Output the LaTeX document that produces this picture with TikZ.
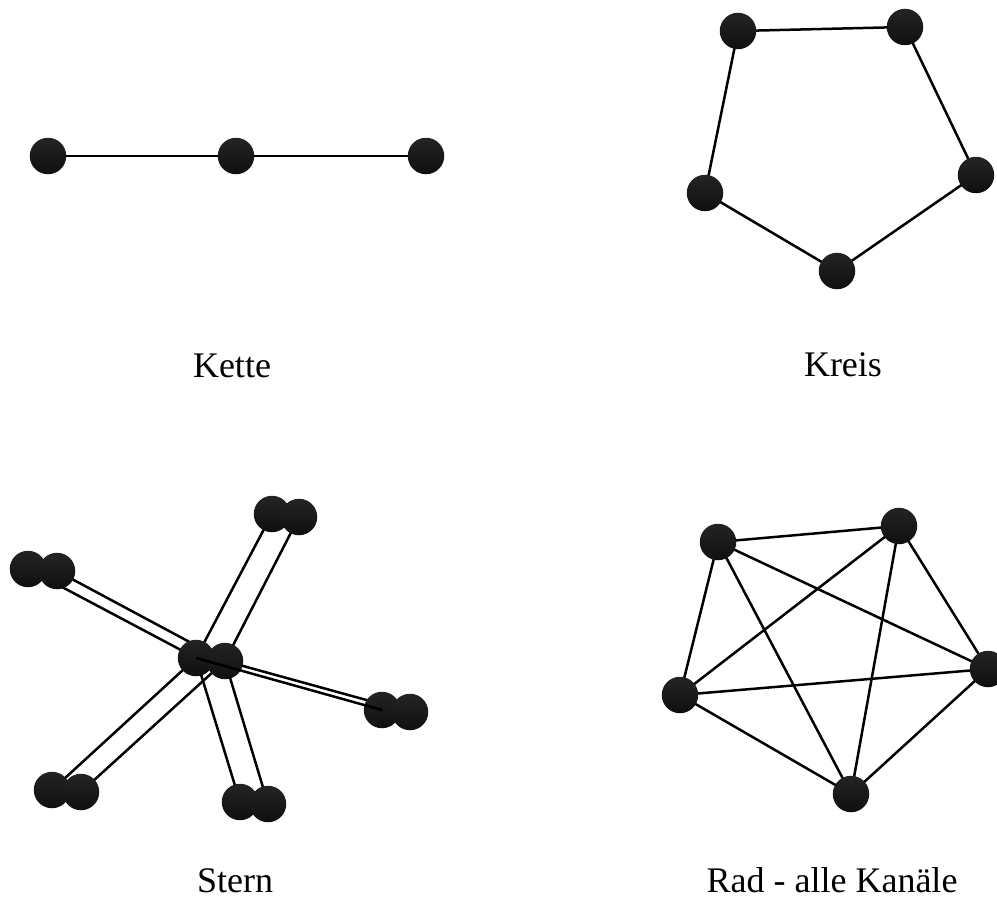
\documentclass[tikz,border=0pt]{standalone}
\usepackage{fontspec}
\setmainfont{Liberation Serif}

\begin{document}
\begin{tikzpicture}[x=1pt,y=-1pt]
		\tikzstyle{every node}+=[inner sep=0pt]
		\tikzstyle{ball}=[circle, minimum size=36.5pt, shading=axis, top color=black!86, bottom color=black!94]
		\tikzstyle{edge}=[black, line width=2.5pt]
		\tikzstyle{caption}=[anchor=base, font=\fontsize{36}{40}\selectfont]
		\useasboundingbox (0,0) rectangle (997,899);
		% Kette
		\node [ball] (c1) at (48,156) {};
		\node [ball] (c2) at (236,156) {};
		\node [ball] (c3) at (426,156) {};
		\draw [edge] (c1) -- (c2);
		\draw [edge] (c2) -- (c3);
		\node [caption] (tc) at (232,377) {Kette};
		% Kreis
		\draw [edge] (738,31) coordinate (k1) -- (905,27) coordinate (k2) -- (976,175) coordinate (k3) -- (837,271) coordinate (k4) -- (705,193) coordinate (k5) -- cycle;
		\node [ball] (kr1) at (k1) {};
		\node [ball] (kr2) at (k2) {};
		\node [ball] (kr3) at (k3) {};
		\node [ball] (kr4) at (k4) {};
		\node [ball] (kr5) at (k5) {};
		\node [caption] (tk) at (843,376) {Kreis};
		% Stern
		\coordinate (sa) at (196,658);
		\coordinate (sat) at (272,514);
		\coordinate (sal) at (28,569);
		\coordinate (sar) at (382,710);
		\coordinate (sabl) at (52,790);
		\coordinate (sab) at (240,802);
		\coordinate (sb) at (225,661);
		\coordinate (sbt) at (299,517);
		\coordinate (sbl) at (57,571);
		\coordinate (sbr) at (410,712);
		\coordinate (sbbl) at (81,792);
		\coordinate (sbb) at (268,804);
		\draw [edge] (sa) -- (sat);
		\draw [edge] (sa) -- (sal);
		\draw [edge] (sa) -- (sabl);
		\draw [edge] (sa) -- (sab);
		\draw [edge] (sb) -- (sbt);
		\draw [edge] (sb) -- (sbl);
		\draw [edge] (sb) -- (sbr);
		\draw [edge] (sb) -- (sbbl);
		\draw [edge] (sb) -- (sbb);
		\node [ball] (na) at (sa) {};
		\node [ball] (nat) at (sat) {};
		\node [ball] (nal) at (sal) {};
		\node [ball] (nar) at (sar) {};
		\node [ball] (nabl) at (sabl) {};
		\node [ball] (nab) at (sab) {};
		\node [ball] (nb) at (sb) {};
		\node [ball] (nbt) at (sbt) {};
		\node [ball] (nbl) at (sbl) {};
		\node [ball] (nbr) at (sbr) {};
		\node [ball] (nbbl) at (sbbl) {};
		\node [ball] (nbb) at (sbb) {};
		\draw [edge] (sa) -- (sar);
		\node [caption] (ts) at (235,892) {Stern};
		% Rad
		\coordinate (r1) at (718,542);
		\coordinate (r2) at (899,526);
		\coordinate (r3) at (988,669);
		\coordinate (r4) at (851,794);
		\coordinate (r5) at (680,695);
		\draw [edge] (r1) -- (r2);
		\draw [edge] (r1) -- (r3);
		\draw [edge] (r1) -- (r4);
		\draw [edge] (r1) -- (r5);
		\draw [edge] (r2) -- (r3);
		\draw [edge] (r2) -- (r4);
		\draw [edge] (r2) -- (r5);
		\draw [edge] (r3) -- (r4);
		\draw [edge] (r3) -- (r5);
		\draw [edge] (r4) -- (r5);
		\node [ball] (nr1) at (r1) {};
		\node [ball] (nr2) at (r2) {};
		\node [ball] (nr3) at (r3) {};
		\node [ball] (nr4) at (r4) {};
		\node [ball] (nr5) at (r5) {};
		\node [caption] (tr) at (832,892) {Rad - alle Kanäle};
\end{tikzpicture}
\end{document}
